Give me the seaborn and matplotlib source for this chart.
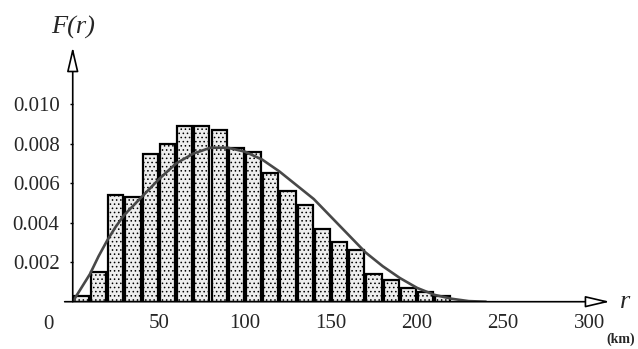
import matplotlib
matplotlib.use("Agg")
import matplotlib.pyplot as plt
import numpy as np
import pandas as pd
import seaborn as sns

sns.set_style("white")
plt.rcParams["font.family"] = ["Liberation Serif", "DejaVu Serif"]
plt.rcParams["hatch.linewidth"] = 0.6

# histogram: 10 km bins, left edges 0..210
bin_left = list(range(0, 220, 10))
freq = [0.0003, 0.0015, 0.0054, 0.0053, 0.0075, 0.0080, 0.0089, 0.0089,
        0.0087, 0.0078, 0.0076, 0.0065, 0.0056, 0.0049, 0.0037, 0.0030,
        0.0026, 0.0014, 0.0011, 0.0007, 0.0005, 0.0003]

# fitted curve
curve_r = [0, 5, 10, 15, 20, 25, 30, 40, 50, 60, 70, 80, 90, 100, 110, 120,
           130, 140, 150, 160, 170, 180, 190, 200, 210, 220, 230, 240]
curve_f = [0.0, 0.0007, 0.0014, 0.0023, 0.0031, 0.0038, 0.0044, 0.0053,
           0.0062, 0.0070, 0.0075, 0.0078, 0.0078, 0.0076, 0.0072, 0.0066,
           0.0059, 0.0052, 0.0043, 0.0034, 0.0025, 0.0018, 0.0012, 0.0007,
           0.00035, 0.00015, 0.00003, 0.0]

yticks = [0.002, 0.004, 0.006, 0.008, 0.010]
xticks = [50, 100, 150, 200, 250, 300]

df = pd.DataFrame({"r": [b + 5 for b in bin_left], "f": freq})
edges = bin_left + [bin_left[-1] + 10]

fig = plt.figure(figsize=(6.38, 3.49), dpi=100)
ax = fig.add_axes([0.114, 0.1355, 0.842, 0.7298])

sns.histplot(data=df, x="r", weights="f", bins=edges, shrink=0.88,
             color="#eeeeee", edgecolor="black", linewidth=1.6, alpha=1,
             ax=ax)
for p in ax.patches:
    p.set_hatch("....")

sns.lineplot(x=curve_r, y=curve_f, color="#484848", linewidth=1.9, ax=ax)

ax.set_xlim(0, 312)
ax.set_ylim(0, 0.0129)
for s in ax.spines.values():
    s.set_visible(False)

ax.set_yticks(yticks)
ax.set_yticklabels([f"{v:.3f}" for v in yticks])
ax.set_xticks(xticks)
ax.set_xticklabels([str(v) for v in xticks])
ax.tick_params(axis="y", length=2.5, width=1, color="black", pad=7, labelsize=15, left=True)
ax.tick_params(axis="x", length=0, pad=9, labelsize=15)
ax.set_xlabel("")
ax.set_ylabel("")

# axis arrows with open heads
arrow = dict(arrowstyle="-|>,head_length=1.5,head_width=0.35", mutation_scale=10,
             facecolor="white", edgecolor="black", linewidth=1.2, shrinkA=0, shrinkB=0)
ax.annotate("", xy=(1.0, 0), xytext=(-0.015, 0), xycoords="axes fraction",
            arrowprops=arrow, annotation_clip=False)
ax.annotate("", xy=(0, 1.0), xytext=(0, 0), xycoords="axes fraction",
            arrowprops=arrow, annotation_clip=False)

ax.text(-14, -0.051, "0", transform=ax.get_xaxis_transform(), ha="center",
        va="top", fontsize=15)
ax.text(0.0, 1.03, "F(r)", transform=ax.transAxes, ha="center", va="bottom",
        fontsize=19, style="italic")
ax.text(1.028, 0.0, "r", transform=ax.transAxes, ha="center", va="center",
        fontsize=19, style="italic")
ax.text(1.02, -0.12, "(km)", transform=ax.transAxes, ha="center", va="top",
        fontsize=10, fontweight="bold")

fig.savefig("out.png", dpi=100)
